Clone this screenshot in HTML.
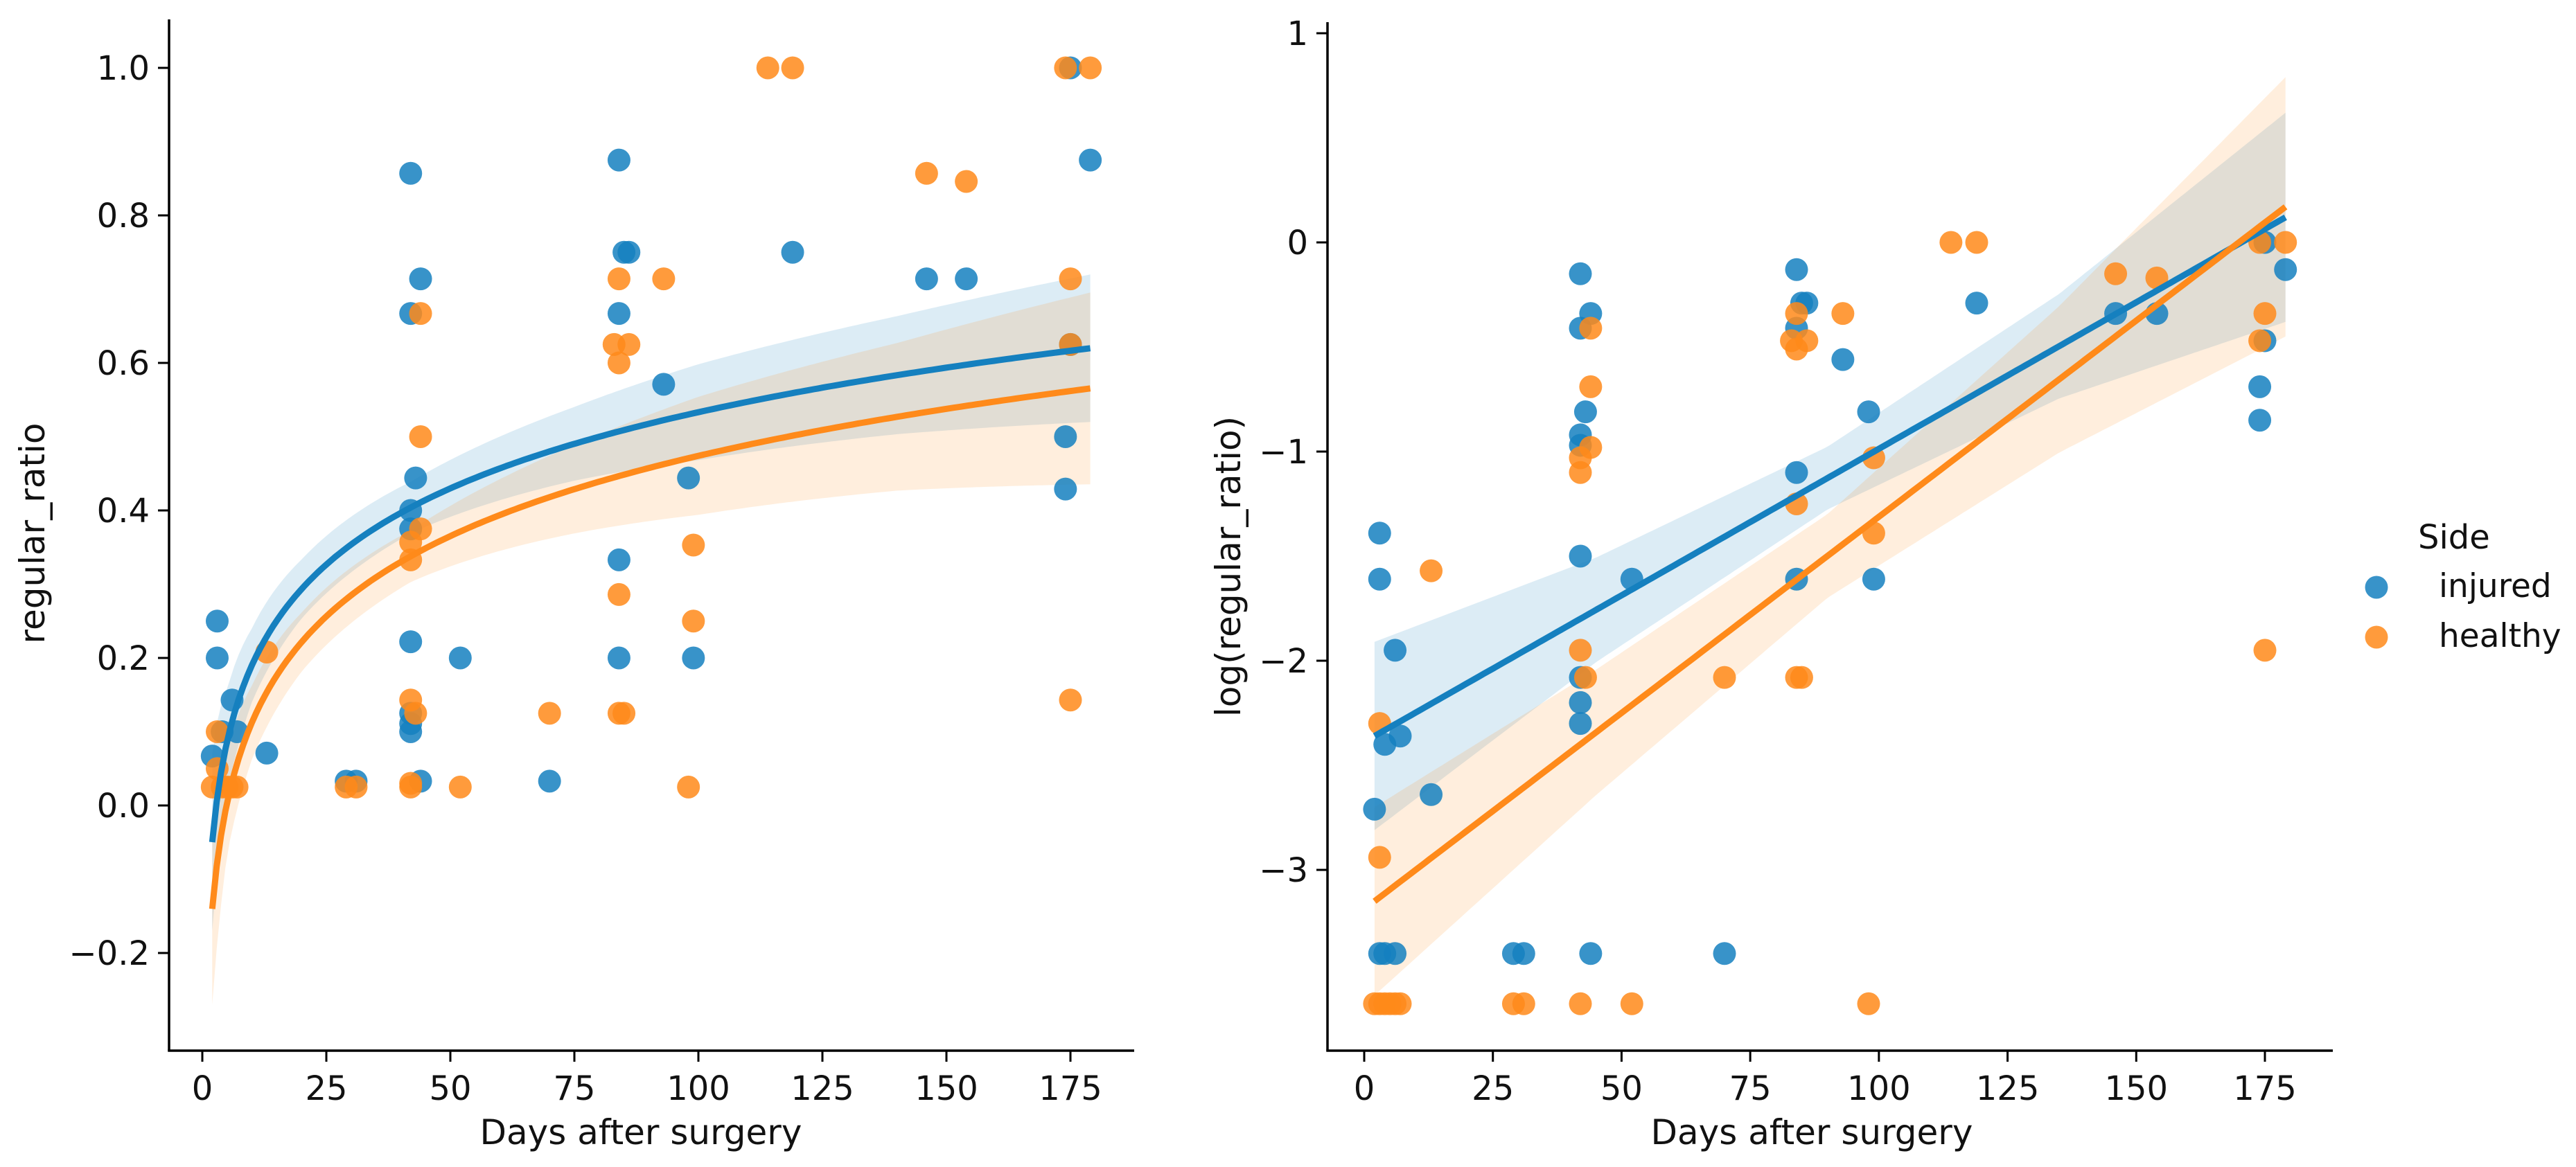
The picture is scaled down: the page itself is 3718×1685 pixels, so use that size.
<!DOCTYPE html>
<html><head><meta charset="utf-8"><style>
html,body{margin:0;padding:0;background:#fff;}
svg{display:block;font-family:"DejaVu Sans","Liberation Sans",sans-serif;}
</style></head><body>
<svg id="chart" width="3718" height="1685" viewBox="0 0 3718 1685" xmlns="http://www.w3.org/2000/svg"></svg>
<script>
// ---- Left panel data (regular_ratio) ----
const leftInjuredDays = [2,3,3,6,7,4,13,29,31,42,42,42,42,42,42,42,42,43,44,44,52,70,84,84,84,84,85,86,93,98,99,119,146,154,174,174,175,175,179];
const leftInjuredVals = [0.067,0.25,0.2,0.143,0.1,0.1,0.071,0.033,0.033,0.857,0.667,0.4,0.375,0.222,0.125,0.111,0.1,0.444,0.714,0.033,0.2,0.033,0.875,0.667,0.333,0.2,0.75,0.75,0.571,0.444,0.2,0.75,0.714,0.714,0.5,0.429,1.0,0.625,0.875];
const leftHealthyDays = [2,3,3,4,5,6,7,13,29,31,42,42,42,42,43,42,44,44,44,52,70,83,84,84,84,84,85,86,93,98,99,99,114,119,146,154,174,175,175,175,179];
const leftHealthyVals = [0.025,0.1,0.05,0.025,0.025,0.025,0.025,0.208,0.025,0.025,0.143,0.333,0.357,0.025,0.125,0.03,0.667,0.5,0.375,0.025,0.125,0.625,0.714,0.6,0.286,0.125,0.125,0.625,0.714,0.025,0.353,0.25,1.0,1.0,0.857,0.846,1.0,0.714,0.625,0.143,1.0];
const leftFitA = [-0.153, -0.249];   // intercept (injured, healthy)
const leftFitB = [0.149, 0.157];     // slope on ln(days)
const leftCiDays = [2,5,10,20,42,75,100,140,179];
const leftCiInjured = [0.12,0.07,0.05,0.04,0.035,0.05,0.065,0.08,0.1];
const leftCiHealthy = [0.13,0.07,0.05,0.04,0.035,0.06,0.08,0.1,0.13];
const leftYTicks = [-0.2,0.0,0.2,0.4,0.6,0.8,1.0];
const leftYTickLabels = ["\u22120.2","0.0","0.2","0.4","0.6","0.8","1.0"];
const xTicks = [0,25,50,75,100,125,150,175];
// ---- Right panel data (log regular_ratio) ----
const rightInjuredDays = [2,3,3,6,7,4,13,3,4,6,29,31,44,70,42,42,44,43,42,42,42,42,42,42,52,84,84,85,86,84,84,93,98,99,119,146,154,174,174,175,175,179];
const rightInjuredVals = [-2.71,-1.39,-1.61,-1.95,-2.36,-2.4,-2.64,-3.4,-3.4,-3.4,-3.4,-3.4,-3.4,-3.4,-0.15,-0.41,-0.34,-0.81,-0.92,-0.97,-1.5,-2.08,-2.2,-2.3,-1.61,-0.13,-0.41,-0.29,-0.29,-1.1,-1.61,-0.56,-0.81,-1.61,-0.29,-0.34,-0.34,-0.69,-0.85,-0.47,0,-0.13];
const rightHealthyDays = [2,3,4,5,6,7,3,3,13,29,31,42,52,98,42,43,42,42,44,44,44,70,84,85,84,83,84,84,86,93,99,99,114,119,146,154,174,175,174,175,179];
const rightHealthyVals = [-3.64,-3.64,-3.64,-3.64,-3.64,-3.64,-2.3,-2.94,-1.57,-3.64,-3.64,-3.64,-3.64,-3.64,-1.95,-2.08,-1.1,-1.03,-0.98,-0.69,-0.41,-2.08,-2.08,-2.08,-1.25,-0.47,-0.51,-0.34,-0.47,-0.34,-1.03,-1.39,0,0,-0.15,-0.17,0,-0.34,-0.47,-1.95,0];
const rightFitStart = [-2.36, -3.15];  // value at day 2
const rightFitEnd = [0.12, 0.17];     // value at day 179
const rightCiDays = [2,45,90,135,179];
const rightCiInjured = [0.45,0.25,0.15,0.25,0.5];
const rightCiHealthy = [0.45,0.3,0.2,0.35,0.62];
const rightYTicks = [-3,-2,-1,0,1];
const rightYTickLabels = ["\u22123","\u22122","\u22121","0","1"];

const NS = "http://www.w3.org/2000/svg";
const svg = document.getElementById('chart');
const BLUE = "#1580bf", ORANGE = "#ff8a1a";
const FS = 48;
function el(tag, attrs, parent){const e=document.createElementNS(NS,tag);for(const k in attrs)e.setAttribute(k,attrs[k]);(parent||svg).appendChild(e);return e;}
function interp(xs, ys, x){if(x<=xs[0])return ys[0];for(let i=1;i<xs.length;i++){if(x<=xs[i]){const t=(x-xs[i-1])/(xs[i]-xs[i-1]);return ys[i-1]+t*(ys[i]-ys[i-1]);}}return ys[ys.length-1];}

function panel(cfg){
  const g = el('g',{});
  
  
  const X = d => cfg.x0 + d*(cfg.x175-cfg.x0)/175;
  const Y = v => cfg.yZero - v*cfg.yUnit;
  const series = [
    {name:'injured', color:BLUE, ci:cfg.ciInj, idx:0},
    {name:'healthy', color:ORANGE, ci:cfg.ciHea, idx:1}];
  series.forEach(s=>{
    const up=[],lo=[],ln=[];
    for(let i=0;i<=200;i++){
      const d = 2 + (179-2)*i/200;
      const m = cfg.fit(s.idx,d), h = interp(cfg.ciDays, s.ci, d);
      up.push(X(d).toFixed(1)+','+Y(m+h).toFixed(1));
      lo.unshift(X(d).toFixed(1)+','+Y(m-h).toFixed(1));
      ln.push(X(d).toFixed(1)+','+Y(m).toFixed(1));
    }
    const band = el('polygon',{points:up.concat(lo).join(' '),fill:s.color,'fill-opacity':0.15,stroke:'none'},g);
    
    
    s.line = ln;
  });
  [[cfg.injD,cfg.injV,BLUE,'injured'],[cfg.heaD,cfg.heaV,ORANGE,'healthy']].forEach(([ds,vs,c,n])=>{
    ds.forEach((d,i)=>{
      const p = el('circle',{cx:X(d),cy:Y(vs[i]),r:16.5,fill:c,'fill-opacity':0.85},g);
      
      
    });
  });
  series.forEach(s=>{
    const l = el('polyline',{points:s.line.join(' '),fill:'none',stroke:s.color,'stroke-width':9,'stroke-linejoin':'round'},g);
    
    
  });
  const ya = el('line',{x1:cfg.spineX,y1:cfg.topY,x2:cfg.spineX,y2:cfg.axisY,stroke:'#000','stroke-width':3.5},g);
  
  
  const xa = el('line',{x1:cfg.spineX-1.75,y1:cfg.axisY,x2:cfg.rightX,y2:cfg.axisY,stroke:'#000','stroke-width':3.5},g);
  
  
  xTicks.forEach(t=>{
    el('line',{x1:X(t),y1:cfg.axisY,x2:X(t),y2:cfg.axisY+16,stroke:'#000','stroke-width':3},g);
    const tx = el('text',{x:X(t),y:cfg.axisY+71,'font-size':FS,'text-anchor':'middle',fill:'#111'},g);
    tx.textContent = t;
    
    
  });
  cfg.yTicks.forEach((t,i)=>{
    el('line',{x1:cfg.spineX-16,y1:Y(t),x2:cfg.spineX,y2:Y(t),stroke:'#000','stroke-width':3},g);
    const tx = el('text',{x:cfg.spineX-28,y:Y(t)+17,'font-size':FS,'text-anchor':'end',fill:'#111'},g);
    tx.textContent = cfg.yLabels[i];
    
    
  });
  const xt = el('text',{x:cfg.xTitleX,y:1652,'font-size':50,'text-anchor':'middle',fill:'#111'},g);
  xt.textContent = 'Days after surgery';
  
  
  const yt = el('text',{x:0,y:0,'font-size':50,'text-anchor':'middle',fill:'#111',transform:`translate(${cfg.yTitleX},${cfg.yTitleY}) rotate(-90)`},g);
  yt.textContent = cfg.yTitle;
  
  
}

panel({name:'left-panel', x0:292, x175:1545, yZero:1163, yUnit:1065, spineX:244, topY:28, axisY:1517, rightX:1637,
  injD:leftInjuredDays, injV:leftInjuredVals, heaD:leftHealthyDays, heaV:leftHealthyVals,
  fit:(i,d)=>leftFitA[i]+leftFitB[i]*Math.log(d), ciDays:leftCiDays, ciInj:leftCiInjured, ciHea:leftCiHealthy,
  yTicks:leftYTicks, yLabels:leftYTickLabels, yTitle:'regular_ratio', yTitleX:64, yTitleY:770, xTitleX:925});
panel({name:'right-panel', x0:1969, x175:3269, yZero:350, yUnit:302, spineX:1916, topY:32, axisY:1517, rightX:3367,
  injD:rightInjuredDays, injV:rightInjuredVals, heaD:rightHealthyDays, heaV:rightHealthyVals,
  fit:(i,d)=>rightFitStart[i]+(rightFitEnd[i]-rightFitStart[i])*(d-2)/177, ciDays:rightCiDays, ciInj:rightCiInjured, ciHea:rightCiHealthy,
  yTicks:rightYTicks, yLabels:rightYTickLabels, yTitle:'log(regular_ratio)', yTitleX:1790, yTitleY:818, xTitleX:2615});

const lg = el('g',{});


const lt = el('text',{x:3490,y:792,'font-size':48,fill:'#111'},lg);
lt.textContent='Side';


[['injured',BLUE,848],['healthy',ORANGE,920]].forEach(([n,c,y])=>{
  const m = el('circle',{cx:3430,cy:y,r:16.5,fill:c,'fill-opacity':0.85},lg);
  
  
  const t = el('text',{x:3520,y:y+14,'font-size':47,fill:'#111'},lg);
  t.textContent = n;
  
  
});
</script>
</body></html>
